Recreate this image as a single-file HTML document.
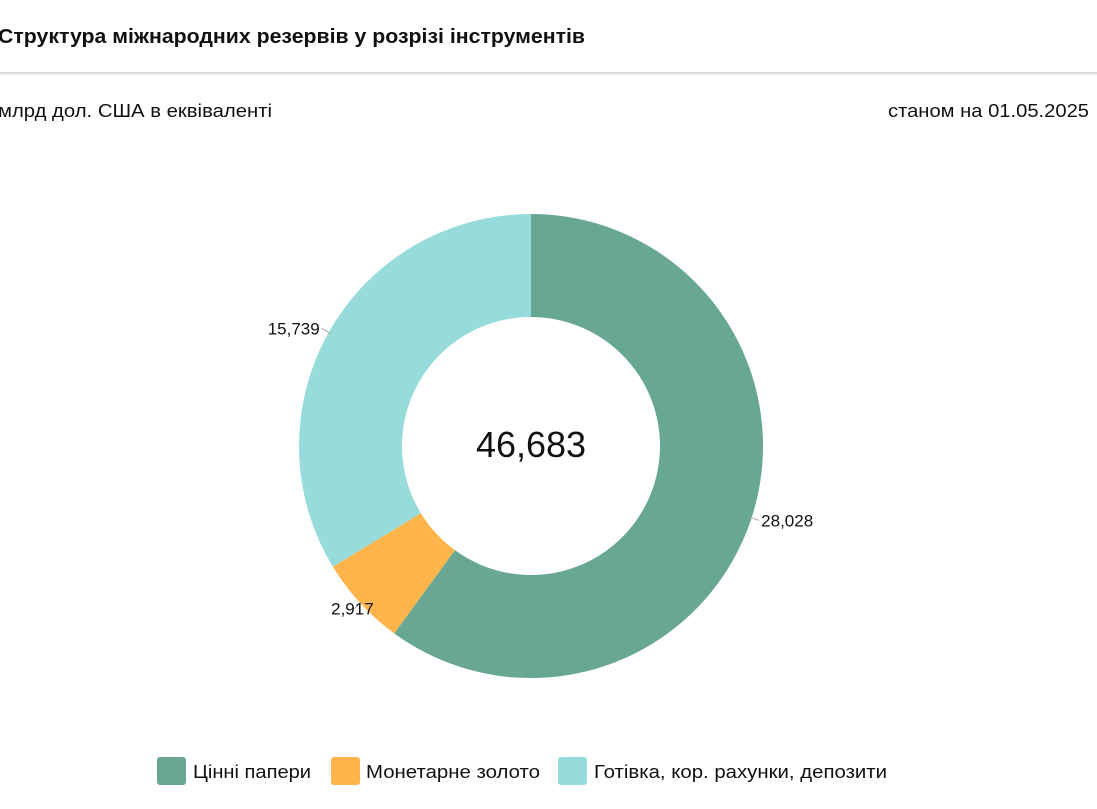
<!DOCTYPE html>
<html><head><meta charset="utf-8"><style>
html,body{margin:0;padding:0;background:#fff;width:1097px;height:809px;overflow:hidden}
svg{display:block;font-family:"Liberation Sans",Arial,sans-serif}
</style></head><body>
<svg width="1097" height="809">
<defs><linearGradient id="sh" x1="0" y1="0" x2="0" y2="1"><stop offset="0" stop-color="#d4d4d4"/><stop offset="1" stop-color="#fff"/></linearGradient></defs>
<text x="-2" y="43" font-size="20" font-weight="bold" fill="#111" textLength="587" lengthAdjust="spacingAndGlyphs">Структура міжнародних резервів у розрізі інструментів</text>
<rect x="0" y="72" width="1097" height="4" fill="url(#sh)"/>
<text x="-2" y="117" font-size="18" fill="#111" textLength="274" lengthAdjust="spacingAndGlyphs">млрд дол. США в еквіваленті</text>
<text x="1089" y="117" font-size="18" fill="#111" text-anchor="end" textLength="201" lengthAdjust="spacingAndGlyphs">станом на 01.05.2025</text>
<g id="donut"></g>
<text x="531" y="457" font-size="36" fill="#111" text-anchor="middle">46,683</text>
<g>
<g><rect x="157" y="757" width="29" height="28" rx="3" fill="#68a793"/><text x="193" y="778" font-size="18" fill="#111" textLength="118" lengthAdjust="spacingAndGlyphs">Цінні папери</text></g>
<g><rect x="331" y="757" width="29" height="28" rx="3" fill="#ffb54c"/><text x="366" y="778" font-size="18" fill="#111" textLength="174" lengthAdjust="spacingAndGlyphs">Монетарне золото</text></g>
<g><rect x="558" y="757" width="29" height="28" rx="3" fill="#98dbdb"/><text x="594" y="778" font-size="18" fill="#111" textLength="293" lengthAdjust="spacingAndGlyphs">Готівка, кор. рахунки, депозити</text></g>
</g>
</svg>
<script>
const categories = ["Цінні папери", "Монетарне золото", "Готівка, кор. рахунки, депозити"];
const values = [28.028, 2.917, 15.739];
const labels = ["28,028", "2,917", "15,739"];
const colors = ["#68a793", "#ffb54c", "#98dbdb"];
const NS = "http://www.w3.org/2000/svg";
const cx = 531, cy = 446, R = 232, r = 129;
const g = document.getElementById('donut');
const total = values.reduce((a, b) => a + b, 0);
function pt(a, rad) { return [cx + rad * Math.sin(a), cy - rad * Math.cos(a)]; }
let a0 = 0;
values.forEach((v, i) => {
  const a1 = a0 + v / total * 2 * Math.PI;
  const large = (a1 - a0) > Math.PI ? 1 : 0;
  const p1 = pt(a0, R), p2 = pt(a1, R), p3 = pt(a1, r), p4 = pt(a0, r);
  const path = document.createElementNS(NS, 'path');
  path.setAttribute('d', `M${p1[0]},${p1[1]} A${R},${R} 0 ${large} 1 ${p2[0]},${p2[1]} L${p3[0]},${p3[1]} A${r},${r} 0 ${large} 0 ${p4[0]},${p4[1]} Z`);
  path.setAttribute('fill', colors[i]);
  
  
  g.appendChild(path);
  const mid = (a0 + a1) / 2;
  const q1 = pt(mid, R - 2), q2 = pt(mid, R + 8);
  const ln = document.createElementNS(NS, 'line');
  ln.setAttribute('x1', q1[0]); ln.setAttribute('y1', q1[1]);
  ln.setAttribute('x2', q2[0]); ln.setAttribute('y2', q2[1]);
  ln.setAttribute('stroke', '#aaa'); ln.setAttribute('stroke-width', '1');
  
  
  g.appendChild(ln);
  const right = Math.sin(mid) >= 0;
  const t = document.createElementNS(NS, 'text');
  t.setAttribute('x', q2[0] + (right ? 2 : -2));
  t.setAttribute('y', q2[1] + 6);
  t.setAttribute('font-size', '17');
  t.setAttribute('fill', '#111');
  t.setAttribute('text-anchor', right ? 'start' : (Math.abs(Math.sin(mid)) < 0.8 ? 'middle' : 'end'));
  t.textContent = labels[i];
  
  
  g.appendChild(t);
  a0 = a1;
});
</script>
</body></html>
